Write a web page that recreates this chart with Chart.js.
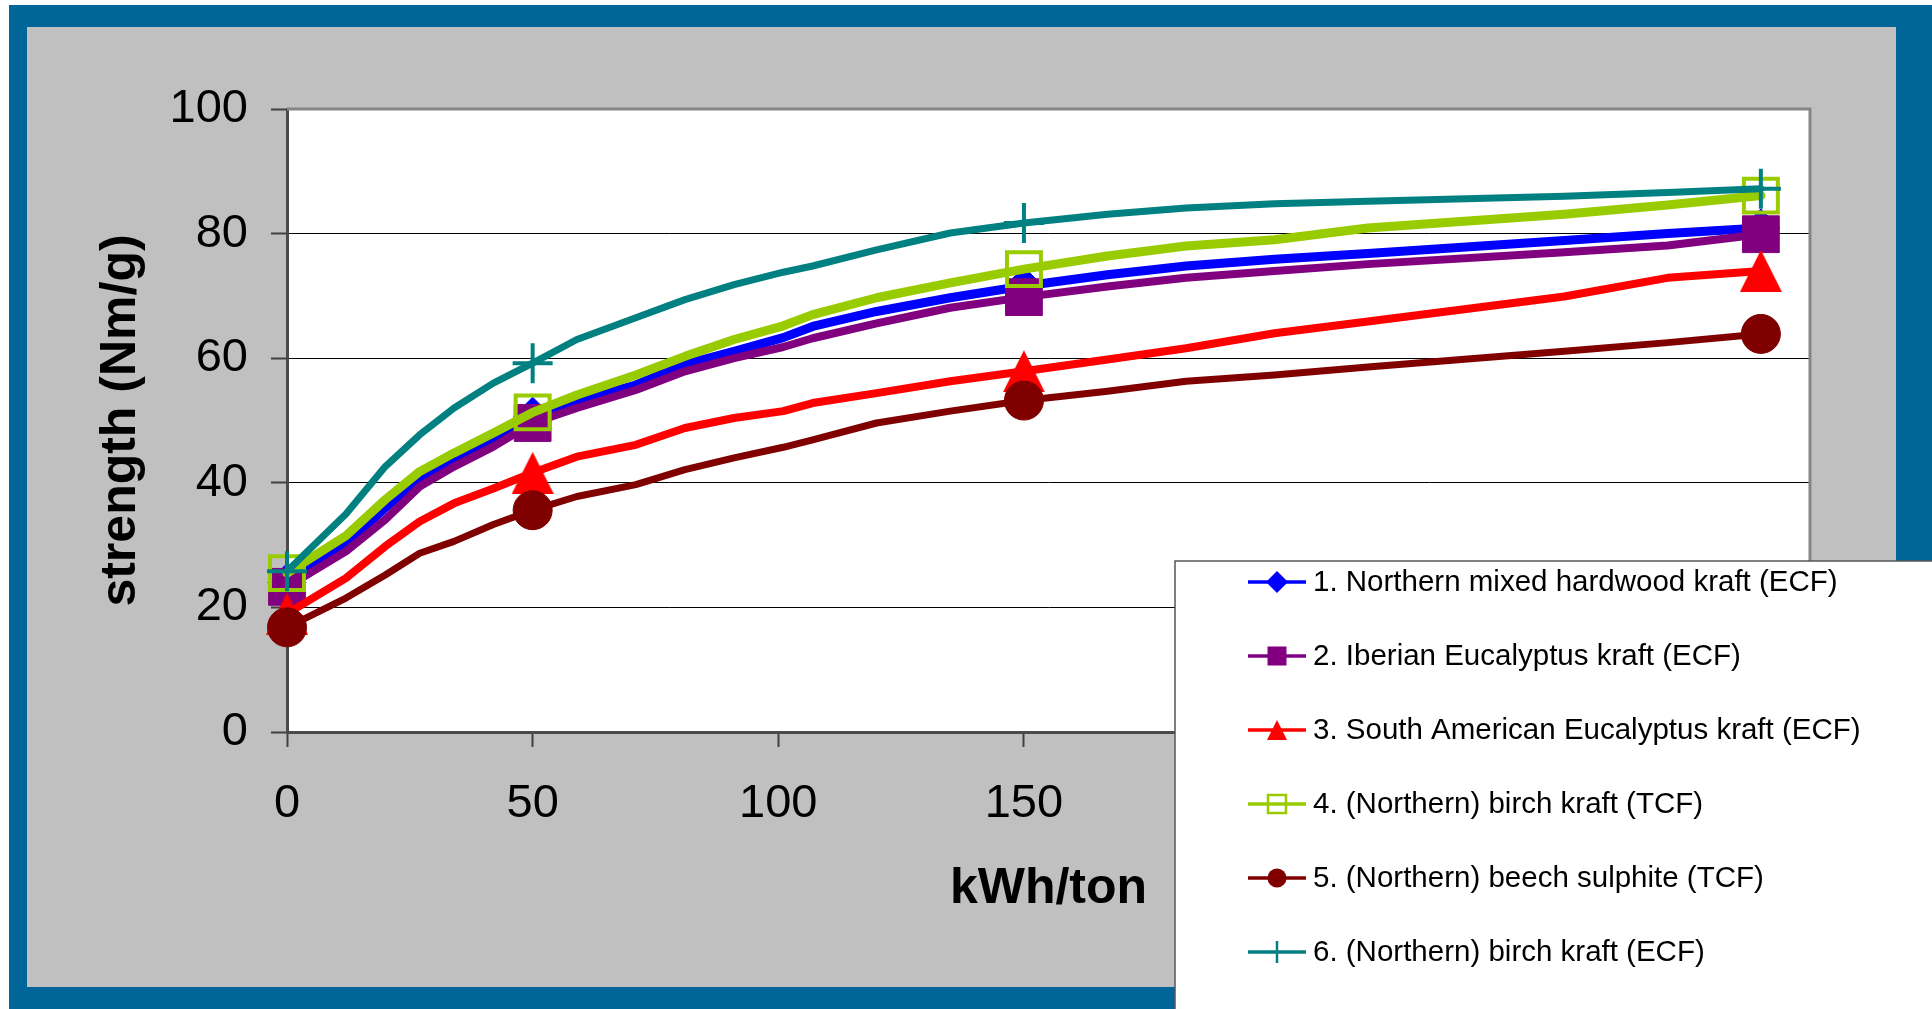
<!DOCTYPE html>
<html>
<head>
<meta charset="utf-8">
<title>Refining energy vs. strength</title>
<script src="https://cdn.jsdelivr.net/npm/chart.js@4.4.0/dist/chart.umd.min.js"></script>
<style>
  html, body { margin: 0; padding: 0; background: #ffffff; overflow: hidden; }
  canvas { display: block; }
</style>
</head>
<body>
<canvas id="chart" width="1932" height="1009"></canvas>
<script>
// Refining energy (kWh/ton) at each vertex of the curves
const kwh = [0, 12, 20, 27, 34, 42, 50, 59, 71, 81, 91, 101, 107, 120, 135, 150, 167, 183, 201, 220, 260, 281, 300];
// Refining levels that carry a marker
const measuredKwh = [0, 50, 150, 300];

const seriesNames = [
  '1. Northern mixed hardwood kraft (ECF)',
  '2. Iberian Eucalyptus kraft (ECF)',
  '3. South American Eucalyptus kraft (ECF)',
  '4. (Northern) birch kraft (TCF)',
  '5. (Northern) beech sulphite (TCF)',
  '6. (Northern) birch kraft (ECF)'
];

// Strength (Nm/g) for each pulp, one value per kwh entry
const mixedHardwoodKraft = [24.0, 30.0, 36.0, 40.7, 43.7, 47.2, 50.7, 53.1, 55.7, 59.0, 61.1, 63.3, 65.1, 67.5, 69.7, 71.6, 73.4, 74.8, 75.9, 76.8, 78.9, 80.0, 80.9];
const iberianEucalyptus  = [23.3, 29.0, 34.1, 39.4, 42.6, 45.8, 49.6, 52.0, 54.9, 57.9, 60.0, 61.8, 63.2, 65.6, 68.1, 69.8, 71.5, 72.9, 74.0, 75.1, 77.0, 78.1, 79.9];
const southAmEucalyptus  = [19.0, 24.7, 29.8, 33.8, 36.7, 39.1, 41.6, 44.2, 46.1, 48.8, 50.4, 51.5, 52.8, 54.4, 56.3, 57.9, 59.8, 61.6, 64.0, 65.9, 69.9, 72.9, 74.0];
const birchKraftTCF      = [25.5, 31.5, 37.3, 41.8, 44.8, 48.0, 51.3, 54.1, 57.3, 60.3, 63.0, 65.2, 67.0, 69.7, 72.1, 74.3, 76.4, 78.0, 79.0, 80.9, 83.1, 84.6, 86.1];
const beechSulphite      = [16.8, 21.5, 25.2, 28.7, 30.6, 33.3, 35.6, 37.8, 39.7, 42.1, 44.0, 45.7, 46.9, 49.6, 51.5, 53.2, 54.7, 56.3, 57.3, 58.6, 61.1, 62.5, 63.9];
const birchKraftECF      = [25.8, 35.0, 42.6, 47.7, 52.0, 56.0, 59.2, 63.0, 66.5, 69.4, 71.8, 73.8, 74.8, 77.4, 80.1, 81.7, 83.1, 84.1, 84.8, 85.2, 86.0, 86.6, 87.2];

const yTicks = [0, 20, 40, 60, 80, 100];
const xTicks = [0, 50, 100, 150, 200, 250, 300];

const FONT = "'Liberation Sans', Arial, Helvetica, sans-serif";

// Upright triangle marker centred on its bounding box
function triangleImage(w, h, color) {
  const c = document.createElement('canvas');
  c.width = w; c.height = h;
  const g = c.getContext('2d');
  g.fillStyle = color;
  g.beginPath();
  g.moveTo(w / 2, 0);
  g.lineTo(w, h);
  g.lineTo(0, h);
  g.closePath();
  g.fill();
  return c;
}

const styles = [
  { color: '#0000FF', width: 9, point: 'rectRot', radius: 19, fill: '#0000FF', pbw: 1 },
  { color: '#800080', width: 8, point: 'rect', radius: 26, fill: '#800080', pbw: 1 },
  { color: '#FF0000', width: 8, point: triangleImage(42, 42, '#FF0000'), radius: 21, fill: '#FF0000', pbw: 1 },
  { color: '#99CC00', width: 9, point: 'rect', radius: 24, fill: 'rgba(0,0,0,0)', pbw: 4 },
  { color: '#800000', width: 7, point: 'circle', radius: 19.5, fill: '#800000', pbw: 1 },
  { color: '#008080', width: 7, point: 'cross', radius: 20, fill: '#008080', pbw: 4 }
];
const seriesValues = [mixedHardwoodKraft, iberianEucalyptus, southAmEucalyptus, birchKraftTCF, beechSulphite, birchKraftECF];

const datasets = seriesValues.map((vals, i) => {
  const s = styles[i];
  return {
    label: seriesNames[i],
    data: kwh.map((x, j) => ({ x: x, y: vals[j] })),
    borderColor: s.color,
    backgroundColor: s.color,
    borderWidth: s.width,
    borderJoinStyle: 'round',
    borderCapStyle: 'round',
    tension: 0,
    fill: false,
    clip: false,
    order: 6 - i,
    pointStyle: s.point,
    pointBackgroundColor: s.fill,
    pointBorderColor: s.color,
    pointBorderWidth: s.pbw,
    pointRadius: ctx => measuredKwh.includes(kwh[ctx.dataIndex]) ? s.radius : 0,
    pointHoverRadius: ctx => measuredKwh.includes(kwh[ctx.dataIndex]) ? s.radius : 0
  };
});

// Blue frame, grey panel and white plotting area
const framePlugin = {
  id: 'frame',
  beforeDraw(chart) {
    const { ctx, chartArea: a } = chart;
    ctx.save();
    ctx.fillStyle = '#ffffff';
    ctx.fillRect(0, 0, chart.width, chart.height);
    ctx.fillStyle = '#006699';
    ctx.fillRect(9, 5, chart.width - 9, chart.height - 5);
    ctx.fillStyle = '#C0C0C0';
    ctx.fillRect(27, 27, 1896 - 27, 987 - 27);
    ctx.fillStyle = '#ffffff';
    ctx.fillRect(a.left, a.top, a.right - a.left, a.bottom - a.top);
    ctx.restore();
  },
  beforeDatasetsDraw(chart) {
    const { ctx, chartArea: a } = chart;
    ctx.save();
    ctx.strokeStyle = '#858585';
    ctx.lineWidth = 3;
    ctx.beginPath();
    ctx.moveTo(a.left, a.top);
    ctx.lineTo(a.right, a.top);
    ctx.lineTo(a.right, a.bottom);
    ctx.stroke();
    ctx.restore();
  }
};

// Legend box in the lower right corner
const legendPlugin = {
  id: 'cornerLegend',
  afterDraw(chart) {
    const ctx = chart.ctx;
    const left = 1175, top = 561;
    ctx.save();
    ctx.fillStyle = '#ffffff';
    ctx.fillRect(left, top, chart.width - left, chart.height - top);
    ctx.strokeStyle = '#555555';
    ctx.lineWidth = 1.5;
    ctx.beginPath();
    ctx.moveTo(left, chart.height);
    ctx.lineTo(left, top);
    ctx.lineTo(chart.width, top);
    ctx.stroke();

    chart.data.datasets.forEach((ds, i) => {
      const y = 582 + 74 * i;
      const mx = 1277;
      const col = ds.borderColor;
      ctx.strokeStyle = col;
      ctx.lineWidth = 3.5;
      ctx.lineCap = 'butt';
      ctx.beginPath();
      ctx.moveTo(1248, y);
      ctx.lineTo(1306, y);
      ctx.stroke();

      ctx.fillStyle = col;
      ctx.beginPath();
      if (i === 0) {
        ctx.moveTo(mx, y - 11); ctx.lineTo(mx + 11, y); ctx.lineTo(mx, y + 11); ctx.lineTo(mx - 11, y);
        ctx.closePath(); ctx.fill();
      } else if (i === 1) {
        ctx.fillRect(mx - 9.5, y - 9.5, 19, 19);
      } else if (i === 2) {
        ctx.moveTo(mx, y - 10); ctx.lineTo(mx + 10, y + 10); ctx.lineTo(mx - 10, y + 10);
        ctx.closePath(); ctx.fill();
      } else if (i === 3) {
        ctx.lineWidth = 2.5;
        ctx.strokeRect(mx - 9, y - 9, 18, 18);
      } else if (i === 4) {
        ctx.arc(mx, y, 9.5, 0, Math.PI * 2); ctx.fill();
      } else {
        ctx.lineWidth = 2.5;
        ctx.moveTo(mx, y - 11); ctx.lineTo(mx, y + 11); ctx.stroke();
      }

      ctx.fillStyle = '#000000';
      ctx.font = '29.5px ' + FONT;
      ctx.textAlign = 'left';
      ctx.textBaseline = 'middle';
      ctx.fillText(ds.label, 1313, y + 1);
    });
    ctx.restore();
  }
};

new Chart(document.getElementById('chart'), {
  type: 'line',
  data: { datasets: datasets },
  plugins: [framePlugin, legendPlugin],
  options: {
    responsive: false,
    animation: false,
    devicePixelRatio: 1,
    layout: { padding: { top: 109, right: 122, bottom: 0, left: 0 } },
    plugins: { legend: { display: false }, tooltip: { enabled: false } },
    events: [],
    scales: {
      x: {
        type: 'linear',
        min: 0,
        max: 310,
        afterFit: s => { s.height = 277; },
        afterBuildTicks: s => { s.ticks = xTicks.map(v => ({ value: v })); },
        ticks: { color: '#000000', padding: 29, maxRotation: 0, font: { family: FONT, size: 47 } },
        grid: { drawOnChartArea: false, drawTicks: true, tickLength: 15, tickColor: '#404040', tickWidth: 2 },
        border: { color: '#4a4a4a', width: 3 },
        title: {
          display: true, text: 'kWh/ton', color: '#000000',
          font: { family: FONT, size: 50, weight: 'bold' },
          padding: { top: 0, bottom: 90 }
        }
      },
      y: {
        min: 0,
        max: 100,
        afterFit: s => { s.width = 287; },
        afterBuildTicks: s => { s.ticks = yTicks.map(v => ({ value: v })); },
        ticks: { color: '#000000', padding: 23, font: { family: FONT, size: 47 } },
        grid: { color: '#000000', lineWidth: 1, drawTicks: true, tickLength: 16, tickColor: '#404040', tickWidth: 2 },
        border: { color: '#4a4a4a', width: 3 },
        title: {
          display: true, text: 'strength (Nm/g)', color: '#000000',
          font: { family: FONT, size: 50, weight: 'bold' },
          padding: { top: 91, bottom: 0 }
        }
      }
    }
  }
});
</script>
</body>
</html>
